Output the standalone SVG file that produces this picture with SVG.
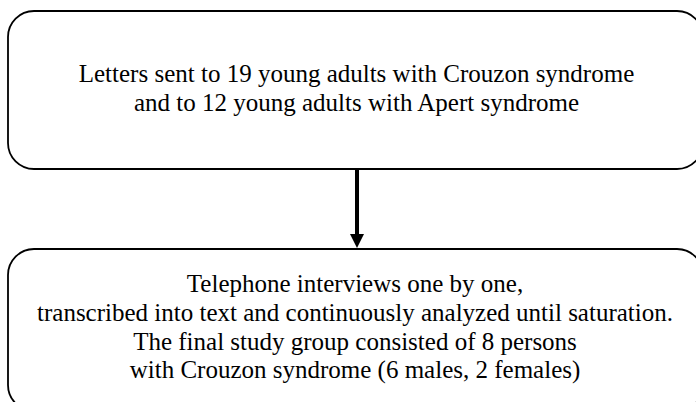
<svg xmlns="http://www.w3.org/2000/svg" width="696" height="402" viewBox="0 0 696 402">
<style>
.box{fill:#fff;stroke:#000;stroke-width:1.8}
.t{font-family:'Liberation Serif','Times New Roman',serif;font-size:25px;fill:#000;text-anchor:middle}
</style>
<rect width="696" height="402" fill="#fff"/>
<g id="node1">
<rect class="box" x="8" y="11" width="695" height="158" rx="26" ry="26"/>
<text class="t" x="356.5" y="81.5">Letters sent to 19 young adults with Crouzon syndrome</text>
<text class="t" x="356.5" y="110.5">and to 12 young adults with Apert syndrome</text>
</g>
<g id="node2">
<rect class="box" x="8" y="249" width="695" height="162" rx="26" ry="26"/>
<text class="t" x="355" y="292">Telephone interviews one by one,</text>
<text class="t" x="355" y="321">transcribed into text and continuously analyzed until saturation.</text>
<text class="t" x="355" y="350">The final study group consisted of 8 persons</text>
<text class="t" x="355" y="378">with Crouzon syndrome (6 males, 2 females)</text>
</g>
<g id="connectors">
<path d="M357,169 L357,234" stroke="#000" stroke-width="4" fill="none"/>
<path d="M350,234 L364,234 L357,248 Z" fill="#000"/>
</g>
</svg>
